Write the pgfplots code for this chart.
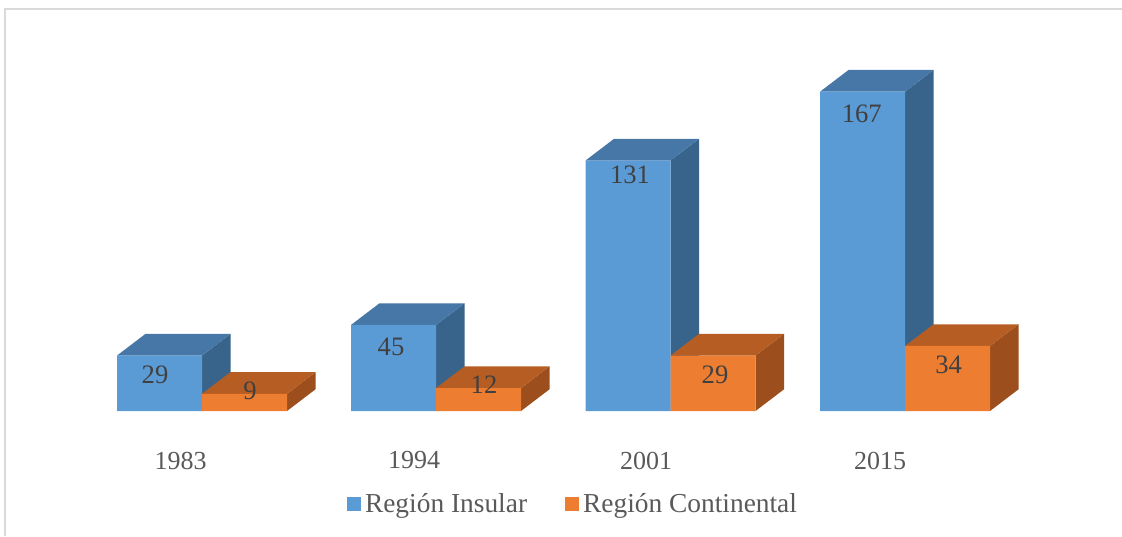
\documentclass[border=0pt]{standalone}
\usepackage{pgfplots}
\pgfplotsset{compat=1.18}
\usepackage{fontspec}
\setmainfont{Liberation Serif}
\definecolor{bfront}{HTML}{5B9BD5}
\definecolor{btop}{HTML}{4677A7}
\definecolor{bside}{HTML}{38648C}
\definecolor{ofront}{HTML}{ED7D31}
\definecolor{otop}{HTML}{B55D22}
\definecolor{oside}{HTML}{9C4F1C}
\definecolor{lbl}{HTML}{404040}
\definecolor{txt}{HTML}{595959}
\definecolor{framec}{HTML}{D9D9D9}
\begin{document}
\begin{tikzpicture}
\begin{axis}[
  name=ax,
  scale only axis, width=561pt, height=268pt,
  xmin=0, xmax=1122, ymin=-65.38, ymax=214.96,
  axis line style={draw=none},
  major tick length=0pt,
  ytick=\empty,
  xtick={180.5,414,646,880},
  xticklabels={\mbox{1983},\mbox{1994},\mbox{2001},\mbox{2015}},
  xticklabel style={anchor=center, yshift=37.75pt, font=\fontsize{13}{15}\selectfont, text=txt},
  legend columns=2,
  legend style={at={(rel axis cs:0.5116,0.0597)}, anchor=center, draw=none, fill=none,
    font=\fontsize{13.7}{16}\selectfont, text=txt,
    /tikz/every even column/.append style={column sep=17pt}},
  legend image code/.code={\fill[#1] (0pt,-3.5pt) rectangle (7pt,3.5pt);},
]
% blue side faces
\addplot[fill=bside, draw=none, forget plot] coordinates {(202,0)(230.5,11.35)(230.5,40.35)(202,29)} --cycle;
\addplot[fill=bside, draw=none, forget plot] coordinates {(436,0)(464.5,11.35)(464.5,56.35)(436,45)} --cycle;
\addplot[fill=bside, draw=none, forget plot] coordinates {(670.5,0)(699,11.35)(699,142.35)(670.5,131)} --cycle;
\addplot[fill=bside, draw=none, forget plot] coordinates {(905,0)(933.5,11.35)(933.5,178.35)(905,167)} --cycle;
% blue top faces
\addplot[fill=btop, draw=none, forget plot] coordinates {(117,29)(145.5,40.35)(230.5,40.35)(202,29)} --cycle;
\addplot[fill=btop, draw=none, forget plot] coordinates {(351,45)(379.5,56.35)(464.5,56.35)(436,45)} --cycle;
\addplot[fill=btop, draw=none, forget plot] coordinates {(585.5,131)(614,142.35)(699,142.35)(670.5,131)} --cycle;
\addplot[fill=btop, draw=none, forget plot] coordinates {(820,167)(848.5,178.35)(933.5,178.35)(905,167)} --cycle;
% blue fronts
\addplot[ybar, bar width=85, bar shift=0pt, fill=bfront, draw=none]
  coordinates {(159.5,29) (393.5,45) (628,131) (862.5,167)};
\addlegendentry{Región Insular}
% orange side faces
\addplot[fill=oside, draw=none, forget plot] coordinates {(287,0)(315.5,11.35)(315.5,20.35)(287,9)} --cycle;
\addplot[fill=oside, draw=none, forget plot] coordinates {(521,0)(549.5,11.35)(549.5,23.35)(521,12)} --cycle;
\addplot[fill=oside, draw=none, forget plot] coordinates {(755.5,0)(784,11.35)(784,40.35)(755.5,29)} --cycle;
\addplot[fill=oside, draw=none, forget plot] coordinates {(990,0)(1018.5,11.35)(1018.5,45.35)(990,34)} --cycle;
% orange top faces
\addplot[fill=otop, draw=none, forget plot] coordinates {(202,9)(230.5,20.35)(315.5,20.35)(287,9)} --cycle;
\addplot[fill=otop, draw=none, forget plot] coordinates {(436,12)(464.5,23.35)(549.5,23.35)(521,12)} --cycle;
\addplot[fill=otop, draw=none, forget plot] coordinates {(670.5,29)(699,40.35)(784,40.35)(755.5,29)} --cycle;
\addplot[fill=otop, draw=none, forget plot] coordinates {(905,34)(933.5,45.35)(1018.5,45.35)(990,34)} --cycle;
% orange fronts
\addplot[ybar, bar width=85, bar shift=0pt, fill=ofront, draw=none]
  coordinates {(244.5,9) (478.5,12) (713,29) (947.5,34)};
\addlegendentry{Región Continental}
% value labels
\addplot[forget plot, draw=none, mark=none, nodes near coords, point meta=explicit symbolic,
  nodes near coords style={anchor=center, font=\fontsize{13.3}{15}\selectfont, text=lbl}]
  coordinates {(155,18.83)[29] (250,10.62)[9] (391,33.63)[45] (484,13.6)[12]
               (630,123.4)[131] (715,18.83)[29] (861.7,155.3)[167] (948.7,24.06)[34]};
\draw[framec, line width=1pt] (rel axis cs:0.00446,0) -- (rel axis cs:0.00446,0.9832) -- (rel axis cs:1,0.9832);
\end{axis}
\pgfresetboundingbox
\path (ax.south west) rectangle (ax.north east);
\end{tikzpicture}
\end{document}
